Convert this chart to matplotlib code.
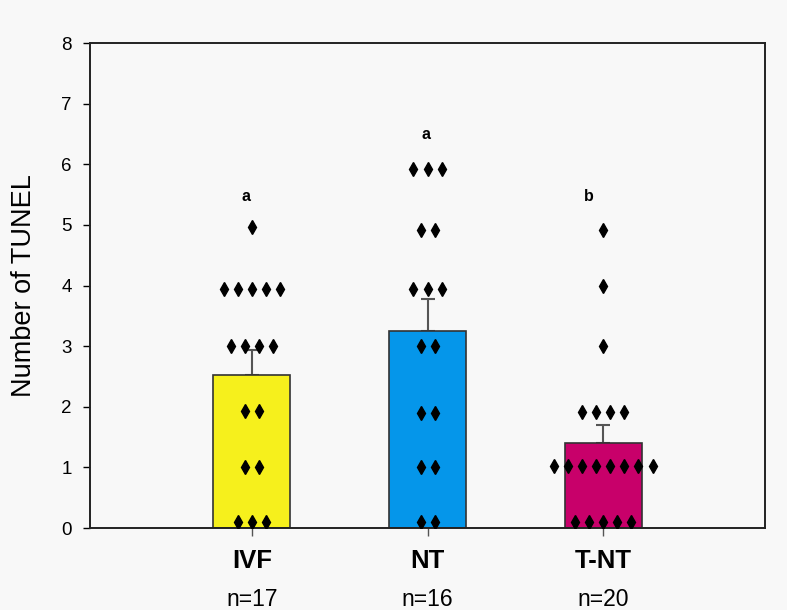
import numpy as np
import matplotlib
matplotlib.use("Agg")
import matplotlib.pyplot as plt

plt.rcParams['font.family'] = ['Liberation Sans', 'DejaVu Sans']

# groups and per-embryo counts
groups = ['IVF', 'NT', 'T-NT']
n_labels = ['n=17', 'n=16', 'n=20']
ivf = [0.1, 0.1, 0.1, 1.0, 1.0, 1.93, 1.93, 3.0, 3.0, 3.0, 3.0,
       3.95, 3.95, 3.95, 3.95, 3.95, 4.97]
nt = [0.1, 0.1, 1.0, 1.0, 1.9, 1.9, 3.0, 3.0, 3.95, 3.95, 3.95,
      4.92, 4.92, 5.92, 5.92, 5.92]
tnt = [0.1, 0.1, 0.1, 0.1, 0.1, 1.02, 1.02, 1.02, 1.02, 1.02, 1.02, 1.02, 1.02,
       1.92, 1.92, 1.92, 1.92, 3.0, 4.0, 4.92]
means = [2.53, 3.25, 1.40]
sems = [0.40, 0.52, 0.30]
letters = ['a', 'a', 'b']
letter_y = [5.46, 6.49, 5.46]

colors = ['#f6f01c', '#0596ea', '#c8006a']
bg = '#f8f8f8'

fig = plt.figure(figsize=(7.87, 6.10), dpi=100, facecolor=bg)
ax = fig.add_axes([0.1144, 0.1344, 0.8577, 0.7951], facecolor=bg)

x = np.arange(len(groups))
ax.bar(x, means, width=0.44, color=colors, edgecolor='#333333', linewidth=1.2, zorder=2)
ax.errorbar(x, means, yerr=[[0, 0, 0], sems], fmt='none', ecolor='#555555',
            elinewidth=1.5, capsize=5, capthick=1.5, zorder=1)

# spread points that share a value side by side
step = 0.08
for xi, vals in zip(x, [ivf, nt, tnt]):
    vals = np.array(vals)
    for v in np.unique(vals):
        k = int((vals == v).sum())
        offs = (np.arange(k) - (k - 1) / 2) * step
        ax.plot(xi + offs, [v] * k, 'd', color='black', markersize=7.5, zorder=3)

for xi, lt, ly, dx in zip(x, letters, letter_y, [-0.03, -0.01, -0.08]):
    ax.text(xi + dx, ly, lt, ha='center', va='center', fontsize=11.5, fontweight='bold')

ax.set_xlim(-0.92, 2.92)
ax.set_ylim(0, 8)
ax.set_yticks(range(0, 9))
ax.set_xticks(x)
ax.set_xticklabels(groups, fontsize=18.5, fontweight='bold')
for xi, lab in zip(x, n_labels):
    ax.text(xi, -0.148, lab, transform=ax.get_xaxis_transform(), ha='center',
            va='center', fontsize=16.5)

ax.tick_params(axis='y', direction='out', length=5, width=1, labelsize=13.5, pad=8)
ax.tick_params(axis='x', direction='out', length=6, width=1, color='#555555', pad=9)
for s in ax.spines.values():
    s.set_linewidth(1.4)
    s.set_color('#222222')

ax.set_ylabel('Number of TUNEL', fontsize=19.5)
ax.yaxis.set_label_coords(-0.078, 0.5)

fig.savefig('out.png', dpi=100, facecolor=bg)
